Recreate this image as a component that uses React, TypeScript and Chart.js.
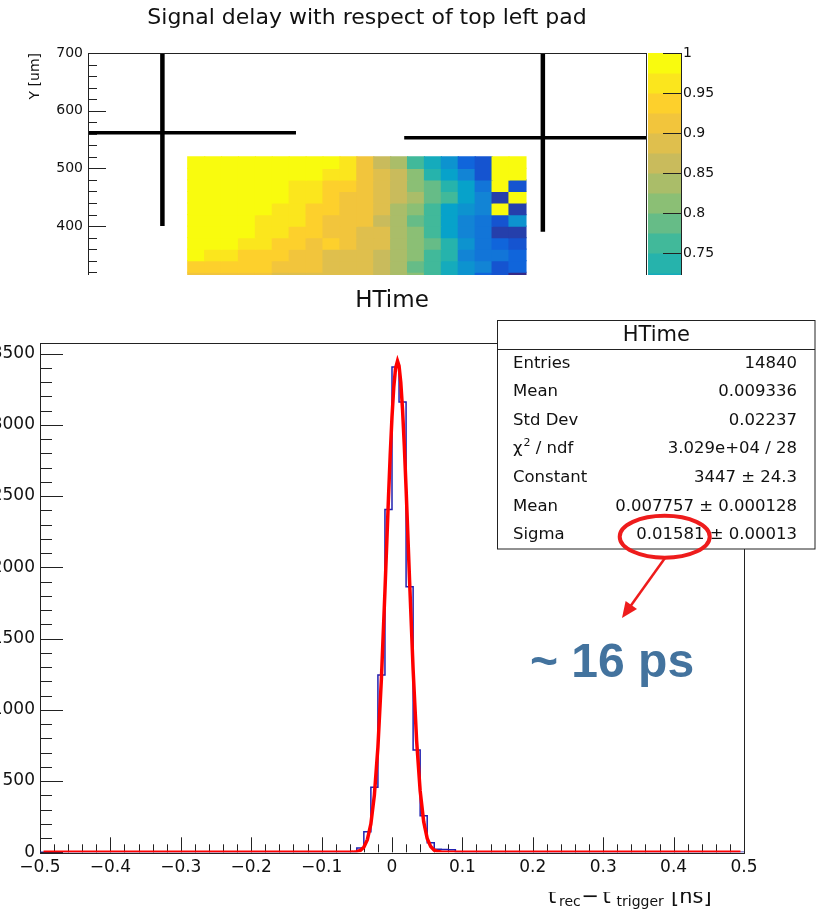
import React, { useEffect, useRef } from 'react';
import { Chart, registerables } from 'chart.js';

Chart.register(...registerables);

const FONT = 'DejaVu Sans';

// ---------------- top plot (pad map) ----------------
const topTitle = 'Signal delay with respect of top left pad';
const topYTitle = 'Y [um]';
const topYTicks = [300, 400, 500, 600, 700];
const colorbarTicks = [0.75, 0.8, 0.85, 0.9, 0.95, 1];
const heatColCenters = [128, 148, 168, 188, 208, 228, 248, 268, 288, 308, 328, 348, 368, 388, 408, 428, 448, 468, 488, 508];
const heatRowCenters = [510, 490, 470, 450, 430, 410, 390, 370, 350, 330, 310];
const heatValues = [
  [0.99, 0.99, 0.99, 0.99, 0.99, 0.99, 0.99, 0.99, 0.99, 0.96, 0.91, 0.86, 0.84, 0.76, 0.71, 0.66, 0.59, 0.56, 0.99, 0.99],
  [0.99, 0.99, 0.99, 0.99, 0.99, 0.99, 0.99, 0.99, 0.96, 0.96, 0.91, 0.89, 0.86, 0.81, 0.74, 0.69, 0.64, 0.56, 0.99, 0.99],
  [0.99, 0.99, 0.99, 0.99, 0.99, 0.99, 0.96, 0.96, 0.94, 0.94, 0.91, 0.89, 0.86, 0.81, 0.79, 0.74, 0.69, 0.61, 0.99, 0.56],
  [0.99, 0.99, 0.99, 0.99, 0.99, 0.99, 0.96, 0.96, 0.94, 0.91, 0.91, 0.89, 0.86, 0.84, 0.79, 0.76, 0.69, 0.64, 0.54, 0.99],
  [0.99, 0.99, 0.99, 0.99, 0.99, 0.96, 0.96, 0.94, 0.94, 0.91, 0.91, 0.89, 0.84, 0.81, 0.76, 0.69, 0.66, 0.64, 0.99, 0.54],
  [0.99, 0.99, 0.99, 0.99, 0.96, 0.96, 0.96, 0.94, 0.91, 0.91, 0.91, 0.86, 0.84, 0.79, 0.76, 0.69, 0.64, 0.61, 0.56, 0.66],
  [0.99, 0.99, 0.99, 0.99, 0.96, 0.96, 0.94, 0.94, 0.91, 0.91, 0.89, 0.89, 0.84, 0.81, 0.76, 0.69, 0.64, 0.61, 0.54, 0.54],
  [0.99, 0.99, 0.99, 0.96, 0.96, 0.94, 0.94, 0.91, 0.94, 0.91, 0.89, 0.89, 0.84, 0.81, 0.79, 0.74, 0.66, 0.61, 0.59, 0.56],
  [0.99, 0.96, 0.96, 0.94, 0.94, 0.94, 0.91, 0.91, 0.89, 0.89, 0.89, 0.86, 0.84, 0.81, 0.76, 0.74, 0.64, 0.61, 0.61, 0.59],
  [0.94, 0.94, 0.94, 0.94, 0.94, 0.91, 0.91, 0.91, 0.89, 0.89, 0.89, 0.86, 0.84, 0.79, 0.76, 0.71, 0.66, 0.64, 0.56, 0.59],
  [0.91, 0.91, 0.91, 0.91, 0.91, 0.89, 0.89, 0.89, 0.89, 0.89, 0.89, 0.86, 0.84, 0.81, 0.76, 0.71, 0.66, 0.59, 0.56, 0.51],
];
const heatCellSize = 20;
// pad-boundary crosses (um)
const crossVertical = [
  [{ x: 88, y: 700 }, { x: 88, y: 400 }],
  [{ x: 538, y: 700 }, { x: 538, y: 390 }],
];
const crossHorizontal = [
  [{ x: 0, y: 562 }, { x: 246, y: 562 }],
  [{ x: 374, y: 553 }, { x: 660, y: 553 }],
];

// colour scale (ROOT kBird, 20 contours)
const zMin = 0.5;
const zStep = 0.025;
const zLevels = 20;
const birdStops = [0, 0.125, 0.25, 0.375, 0.5, 0.625, 0.75, 0.875, 1];
const birdR = [0.2082, 0.0592, 0.078, 0.0232, 0.1802, 0.5301, 0.8186, 0.9956, 0.9764];
const birdG = [0.1664, 0.3599, 0.5041, 0.6419, 0.7178, 0.7492, 0.7328, 0.7862, 0.9832];
const birdB = [0.5293, 0.8684, 0.8385, 0.7914, 0.6425, 0.4662, 0.3499, 0.1968, 0.0539];

// ---------------- bottom plot (HTime) ----------------
const histTitle = 'HTime';
const htimeXTicks = [-0.5, -0.4, -0.3, -0.2, -0.1, 0, 0.1, 0.2, 0.3, 0.4, 0.5];
const htimeYTicks = [0, 500, 1000, 1500, 2000, 2500, 3000, 3500];
const histEdges = [-0.5, -0.05, -0.04, -0.03, -0.02, -0.01, 0, 0.01, 0.02, 0.03, 0.04, 0.05, 0.06, 0.07, 0.08, 0.09, 0.5];
const histCounts = [0, 30, 144, 456, 1244, 2406, 3406, 3160, 1863, 717, 256, 67, 22, 20, 18, 0, 0];
const fitX = [-0.495, -0.06, -0.055, -0.05, -0.045, -0.04, -0.035, -0.03, -0.025, -0.02, -0.015, -0.01, -0.005, -0.0025, 0, 0.0025, 0.005, 0.0078, 0.01, 0.0125, 0.015, 0.0175, 0.02, 0.025, 0.03, 0.035, 0.04, 0.045, 0.05, 0.055, 0.06, 0.065, 0.07, 0.075, 0.495];
const fitY = [0, 0.4, 1.3, 4.4, 13, 36, 89, 199, 403, 738, 1223, 1835, 2489, 2793, 3056, 3262, 3395, 3447, 3413, 3295, 3104, 2851, 2554, 1902, 1281, 781, 431, 215, 97, 40, 15, 5, 1.5, 0.4, 0];
const statsLabels = ['Entries', 'Mean', 'Std Dev', 'χ^2 / ndf', 'Constant', 'Mean', 'Sigma'];
const statsValues = ['14840', '0.009336', '0.02237', '3.029e+04 / 28', '3447 ± 24.3', '0.007757 ± 0.000128', '0.01581 ± 0.00013'];
const annotationText = '~ 16 ps';
const xTitleParts = [
  { text: 't', sub: false },
  { text: 'rec', sub: true },
  { text: '−', sub: false },
  { text: 't', sub: false },
  { text: 'trigger', sub: true },
  { text: '[ns]', sub: false },
];

// ---------------- layout constants ----------------
const BOT_LEFT = -30;
const BOT_TOP = 280;
const xTitlePos = [548, 559, 581.5, 602.5, 616.5, 671];

function paletteColor(k: number) {
  const f = k / (zLevels - 1);
  let i = 0;
  while (i < birdStops.length - 2 && f > birdStops[i + 1]) i++;
  const t = (f - birdStops[i]) / (birdStops[i + 1] - birdStops[i]);
  const c = (arr: number[]) => Math.round(255 * (arr[i] + t * (arr[i + 1] - arr[i])));
  return `rgb(${c(birdR)},${c(birdG)},${c(birdB)})`;
}
function valueColor(v: number) {
  const k = Math.max(0, Math.min(zLevels - 1, Math.floor((v - zMin) / zStep + 1e-9)));
  return paletteColor(k);
}

function inwardTicks(ctx: any, chart: any, id: string, majors: number[], nDiv: number, majorLen: number, minorLen: number) {
  const s = chart.scales[id];
  const a = chart.chartArea;
  const horiz = s.isHorizontal();
  ctx.beginPath();
  for (let i = 0; i < majors.length; i++) {
    const list: [number, number][] = [[majors[i], majorLen]];
    if (i < majors.length - 1) {
      for (let j = 1; j < nDiv; j++) list.push([majors[i] + ((majors[i + 1] - majors[i]) * j) / nDiv, minorLen]);
    }
    for (const [v, len] of list) {
      const p = Math.round(s.getPixelForValue(v)) + 0.5;
      if (horiz) {
        ctx.moveTo(p, a.bottom);
        ctx.lineTo(p, a.bottom - len);
      } else {
        ctx.moveTo(a.left, p);
        ctx.lineTo(a.left + len, p);
      }
    }
  }
  ctx.stroke();
}

function drawFrame(ctx: any, a: any) {
  ctx.strokeRect(Math.round(a.left) + 0.5, Math.round(a.top) + 0.5, Math.round(a.right - a.left), Math.round(a.bottom - a.top));
}

const topDecor = {
  id: 'topDecor',
  afterDatasetsDraw(chart: any) {
    const { ctx, chartArea: a } = chart;
    ctx.save();
    ctx.strokeStyle = '#222';
    ctx.lineWidth = 1;
    drawFrame(ctx, a);
    inwardTicks(ctx, chart, 'y', topYTicks, 5, 18, 9);
    // colour bar
    const z = chart.scales.z;
    const x0 = a.right + 2;
    const x1 = a.right + 35;
    for (let k = 0; k < zLevels; k++) {
      const lo = zMin + k * zStep;
      const yTop = z.getPixelForValue(lo + zStep);
      const yBot = z.getPixelForValue(lo);
      ctx.fillStyle = paletteColor(k);
      ctx.fillRect(x0, yTop, x1 - x0, yBot - yTop + 0.5);
    }
    ctx.beginPath();
    ctx.moveTo(x1 + 0.5, z.getPixelForValue(1));
    ctx.lineTo(x1 + 0.5, z.getPixelForValue(zMin));
    for (const v of colorbarTicks) {
      const p = Math.round(z.getPixelForValue(v)) + 0.5;
      ctx.moveTo(x1 - 18, p);
      ctx.lineTo(x1, p);
    }
    ctx.stroke();
    ctx.restore();
  },
};

const bottomDecor = {
  id: 'bottomDecor',
  beforeDatasetsDraw(chart: any) {
    const { ctx, chartArea: a } = chart;
    ctx.save();
    ctx.strokeStyle = '#222';
    ctx.lineWidth = 1;
    drawFrame(ctx, a);
    inwardTicks(ctx, chart, 'x', htimeXTicks, 5, 15, 8);
    inwardTicks(ctx, chart, 'y', htimeYTicks, 5, 23, 12);
    ctx.restore();
  },
  afterDraw(chart: any) {
    const ctx = chart.ctx;
    const X = (px: number) => px - BOT_LEFT;
    const Y = (py: number) => py - BOT_TOP;
    ctx.save();
    // stats box
    const bx = X(497.5), by = Y(320.5), bw = 317.5, bh = 228.5;
    ctx.fillStyle = '#fff';
    ctx.fillRect(bx, by, bw, bh);
    ctx.strokeStyle = '#222';
    ctx.lineWidth = 1;
    ctx.strokeRect(bx, by, bw, bh);
    ctx.beginPath();
    ctx.moveTo(bx, Y(349.5));
    ctx.lineTo(bx + bw, Y(349.5));
    ctx.stroke();
    ctx.fillStyle = '#111';
    ctx.textBaseline = 'middle';
    ctx.textAlign = 'center';
    ctx.font = `21px "${FONT}"`;
    ctx.fillText(histTitle, bx + bw / 2, Y(335.5));
    const rowFont = `16.5px "${FONT}"`;
    statsLabels.forEach((label, i) => {
      const y = Y(363.3 + i * 28.6);
      ctx.font = rowFont;
      ctx.textAlign = 'left';
      if (label.includes('^2')) {
        const [pre, post] = label.split('^2');
        let x = X(513);
        ctx.fillText(pre, x, y);
        x += ctx.measureText(pre).width + 1;
        ctx.font = `11px "${FONT}"`;
        ctx.fillText('2', x, y - 6);
        x += ctx.measureText('2').width;
        ctx.font = rowFont;
        ctx.fillText(post, x, y);
      } else {
        ctx.fillText(label, X(513), y);
      }
      ctx.textAlign = 'right';
      ctx.fillText(statsValues[i], X(797), y);
    });
    // red ellipse around sigma
    ctx.strokeStyle = '#ee1c1c';
    ctx.lineWidth = 4;
    ctx.beginPath();
    ctx.ellipse(X(664.7), Y(536.7), 45, 21, 0, 0, Math.PI * 2);
    ctx.stroke();
    // arrow
    const sx = X(665), sy = Y(558), tx = X(622), ty = Y(618);
    const dx = tx - sx, dy = ty - sy;
    const L = Math.hypot(dx, dy);
    const ux = dx / L, uy = dy / L;
    ctx.lineWidth = 2.5;
    ctx.beginPath();
    ctx.moveTo(sx, sy);
    ctx.lineTo(tx - ux * 12, ty - uy * 12);
    ctx.stroke();
    ctx.fillStyle = '#ee1c1c';
    ctx.beginPath();
    ctx.moveTo(tx, ty);
    ctx.lineTo(tx - ux * 16 - uy * 7, ty - uy * 16 + ux * 7);
    ctx.lineTo(tx - ux * 16 + uy * 7, ty - uy * 16 - ux * 7);
    ctx.closePath();
    ctx.fill();
    // annotation text
    ctx.fillStyle = '#43739e';
    ctx.font = `bold 48px "Liberation Sans"`;
    ctx.textAlign = 'left';
    ctx.textBaseline = 'alphabetic';
    ctx.fillText(annotationText, X(530), Y(676.7));
    // x axis title (lower part only visible)
    ctx.beginPath();
    ctx.rect(0, Y(892), chart.width, 200);
    ctx.clip();
    ctx.fillStyle = '#111';
    xTitleParts.forEach((p, i) => {
      ctx.font = p.sub ? `14px "${FONT}"` : `21px "${FONT}"`;
      ctx.fillText(p.text, X(xTitlePos[i]), Y(p.sub ? 906 : 903));
    });
    ctx.restore();
  },
};

export default function App() {
  const topRef = useRef<HTMLCanvasElement>(null);
  const botRef = useRef<HTMLCanvasElement>(null);

  useEffect(() => {
    Chart.defaults.font.family = FONT;
    Chart.defaults.color = '#111';

    const barSets = heatRowCenters.map((yc, r) => ({
      type: 'bar' as const,
      order: 2,
      data: heatColCenters.map((xc) => ({ x: xc, y: [yc - heatCellSize / 2, yc + heatCellSize / 2] })),
      backgroundColor: heatValues[r].map(valueColor),
      borderWidth: 0,
      inflateAmount: 0.6,
      grouped: false,
      barPercentage: 1,
      categoryPercentage: 1,
    }));
    const lineSet = (pts: any, w: number) => ({
      type: 'line' as const,
      order: 1,
      data: pts,
      borderColor: '#000',
      borderWidth: w,
      pointRadius: 0,
      fill: false,
      tension: 0,
    });

    const top = new Chart(topRef.current as HTMLCanvasElement, {
      type: 'bar',
      data: {
        datasets: [
          ...crossVertical.map((p) => lineSet(p, 4.5)),
          ...crossHorizontal.map((p) => lineSet(p, 3.5)),
          ...barSets,
        ] as any,
      },
      options: {
        responsive: false,
        maintainAspectRatio: false,
        animation: false,
        devicePixelRatio: 1,
        events: [],
        layout: { padding: { top: 0, left: 0, right: 0, bottom: 46.2 } },
        plugins: {
          legend: { display: false },
          tooltip: { enabled: false },
          title: {
            display: true,
            text: topTitle,
            fullSize: false,
            color: '#111',
            font: { family: FONT, size: 22, weight: 'normal' },
            padding: { top: 4.8, bottom: 21.8 },
          },
        },
        scales: {
          x: {
            type: 'linear',
            display: true,
            min: 0,
            max: 660,
            offset: false,
            afterFit: (s: any) => { s.height = 0; },
            grid: { display: false, drawTicks: false },
            border: { display: false },
            ticks: { display: false },
          },
          y: {
            type: 'linear',
            min: 300,
            max: 700,
            beginAtZero: false,
            afterBuildTicks: (s: any) => { s.ticks = topYTicks.map((value) => ({ value })); },
            afterFit: (s: any) => { s.width = 88; },
            grid: { display: false, drawTicks: false },
            border: { display: false },
            ticks: { padding: 5, color: '#111', font: { family: FONT, size: 14 }, callback: (v: any) => String(v) },
            title: { display: true, text: topYTitle, align: 'end', color: '#111', font: { family: FONT, size: 14 }, padding: { top: 26.6, bottom: 0 } },
          },
          z: {
            type: 'linear',
            position: 'right',
            min: 0.7115,
            max: 1,
            afterBuildTicks: (s: any) => { s.ticks = colorbarTicks.map((value) => ({ value })); },
            afterFit: (s: any) => { s.width = 179; },
            grid: { display: false, drawTicks: false },
            border: { display: false },
            ticks: {
              padding: 37,
              color: '#111',
              font: { family: FONT, size: 14 },
              callback: (v: any) => (+v).toFixed(2).replace(/0+$/, '').replace(/\.$/, ''),
            },
          },
        },
      } as any,
      plugins: [topDecor],
    });

    const bottom = new Chart(botRef.current as HTMLCanvasElement, {
      type: 'line',
      data: {
        datasets: [
          {
            data: fitX.map((x, i) => ({ x, y: fitY[i] })),
            borderColor: '#ff0000',
            borderWidth: 3.5,
            pointRadius: 0,
            tension: 0,
            order: 0,
          },
          {
            data: histEdges.map((x, i) => ({ x, y: histCounts[i] })),
            borderColor: '#2020b0',
            borderWidth: 1.5,
            pointRadius: 0,
            stepped: 'before',
            order: 1,
          },
        ],
      },
      options: {
        responsive: false,
        maintainAspectRatio: false,
        animation: false,
        devicePixelRatio: 1,
        events: [],
        layout: { padding: { top: 0, left: 0, right: 81, bottom: 0 } },
        plugins: {
          legend: { display: false },
          tooltip: { enabled: false },
          title: {
            display: true,
            text: histTitle,
            fullSize: false,
            color: '#111',
            font: { family: FONT, size: 23, weight: 'normal' },
            padding: { top: 7.2, bottom: 27.9 },
          },
        },
        scales: {
          x: {
            type: 'linear',
            min: -0.5,
            max: 0.5,
            afterBuildTicks: (s: any) => { s.ticks = htimeXTicks.map((value) => ({ value })); },
            afterFit: (s: any) => { s.height = 56.7; },
            grid: { display: false, drawTicks: false },
            border: { display: false },
            ticks: {
              padding: 5,
              autoSkip: false,
              maxRotation: 0,
              color: '#111',
              font: { family: FONT, size: 17 },
              callback: (v: any) => {
                const n = Number(v);
                if (Math.abs(n) < 1e-9) return '0';
                return (n < 0 ? '\u2212' : '') + Math.abs(n).toFixed(1);
              },
            },
          },
          y: {
            type: 'linear',
            min: 0,
            max: 3576,
            afterBuildTicks: (s: any) => { s.ticks = htimeYTicks.map((value) => ({ value })); },
            afterFit: (s: any) => { s.width = 70; },
            grid: { display: false, drawTicks: false },
            border: { display: false },
            ticks: { padding: 5, color: '#111', font: { family: FONT, size: 17 }, callback: (v: any) => String(v) },
          },
        },
      } as any,
      plugins: [bottomDecor],
    });

    return () => {
      top.destroy();
      bottom.destroy();
    };
  }, []);

  return (
    <div style={{ position: 'fixed', left: 0, top: 0, width: 825, height: 909, overflow: 'hidden', background: '#fff' }}>
      <div style={{ position: 'absolute', left: 0, top: 0, width: 825, height: 275, overflow: 'hidden' }}>
        <canvas ref={topRef} width={825} height={330} style={{ display: 'block' }} />
      </div>
      <canvas
        ref={botRef}
        width={855}
        height={629}
        style={{ position: 'absolute', left: BOT_LEFT, top: BOT_TOP, display: 'block' }}
      />
    </div>
  );
}
